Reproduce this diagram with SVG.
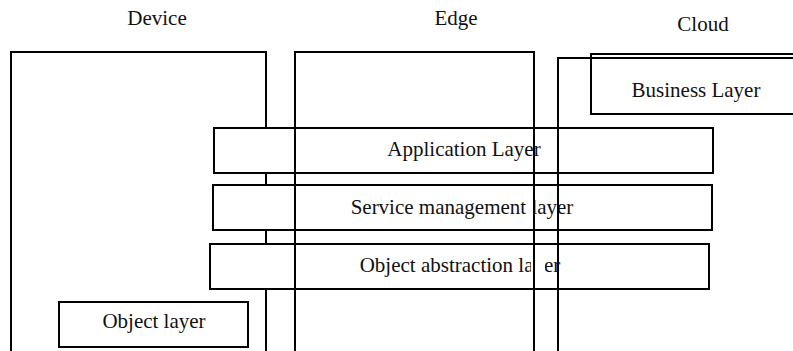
<svg xmlns="http://www.w3.org/2000/svg" width="793" height="351" viewBox="0 0 793 351">
  <style>
    .frame { fill: none; stroke: #000; stroke-width: 2; }
    .layer { fill: #fff; stroke: #000; stroke-width: 2; }
    .label { font-family: "Liberation Serif", "Times New Roman", serif; font-size: 21px; fill: #111; text-anchor: middle; }
    .mask { fill: #fff; }
  </style>
  <rect width="793" height="351" fill="#fff"/>

  <!-- tier headings -->
  <g id="headings">
    <text class="label" x="157" y="25">Device</text>
    <text class="label" x="456" y="25">Edge</text>
    <text class="label" x="703" y="31">Cloud</text>
  </g>

  <!-- device tier -->
  <g id="device">
    <path class="frame" d="M11,360 V52 H266 V360"/>
  </g>
  <g id="object-layer">
    <rect class="layer" x="59" y="302" width="189" height="45"/>
    <text class="label" x="154" y="328">Object layer</text>
  </g>

  <!-- layers spanning the tiers -->
  <g id="application-layer">
    <rect class="layer" x="214" y="128" width="499" height="45"/>
    <text class="label" x="464" y="156">Application Layer</text>
  </g>
  <g id="service-management-layer">
    <rect class="layer" x="213" y="185" width="499" height="45"/>
    <text class="label" x="462" y="214">Service management layer</text>
    <rect class="mask" x="529" y="195" width="5" height="24"/>
  </g>
  <g id="object-abstraction-layer">
    <rect class="layer" x="210" y="244" width="499" height="45"/>
    <text class="label" x="460" y="272">Object abstraction layer</text>
    <rect class="mask" x="531" y="254" width="14" height="26"/>
  </g>

  <!-- edge and cloud tiers -->
  <g id="edge">
    <path class="frame" d="M295,360 V52 H534 V360"/>
  </g>
  <g id="cloud">
    <path class="frame" d="M558,360 V58 H800"/>
  </g>
  <g id="business-layer">
    <path class="frame" d="M800,54 H591 V114 H800"/>
    <text class="label" x="696" y="97">Business Layer</text>
  </g>
</svg>
